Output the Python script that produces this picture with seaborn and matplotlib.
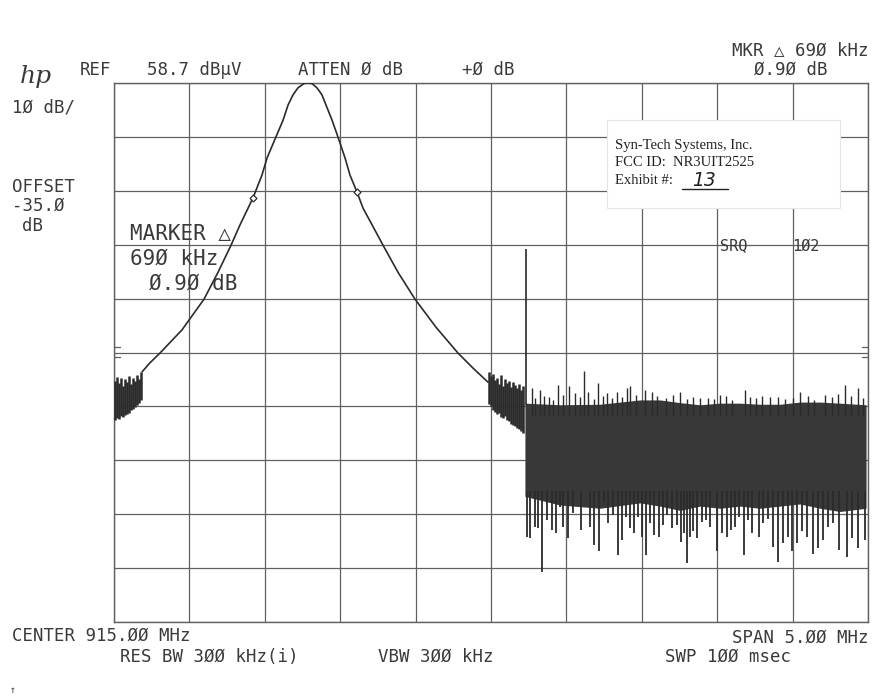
import numpy as np
import pandas as pd
import matplotlib
matplotlib.use("Agg")
import matplotlib.pyplot as plt
import seaborn as sns
from matplotlib.patches import Rectangle
from matplotlib.lines import Line2D

# ---------------- analyzer settings ----------------
center_mhz = 915.0
span_mhz = 5.0
ref_level = 58.7
db_per_div = 10

# ---------------- main response (MHz, dBuV) ----------------
peak_freq = [912.686, 912.739, 912.805, 912.951, 913.097, 913.190, 913.276, 913.336,
             913.422, 913.481, 913.515, 913.574, 913.621, 913.654, 913.687, 913.720,
             913.760, 913.780, 913.813, 913.846, 913.879, 913.906, 913.946, 913.985,
             914.032, 914.065, 914.111, 914.151, 914.211, 914.284, 914.383, 914.496,
             914.635, 914.781, 914.881, 914.980]
peak_level = [5.1, 6.8, 8.6, 12.9, 18.6, 23.6, 28.6, 32.4,
              37.4, 41.6, 44.8, 48.7, 51.8, 54.6, 56.5, 57.8,
              58.6, 58.7, 58.6, 57.8, 56.5, 54.6, 51.8, 48.7,
              44.8, 41.6, 38.5, 35.5, 32.4, 28.6, 23.6, 18.6,
              13.4, 8.6, 5.8, 3.2]

# noise at the left edge
left_noise_freq = [912.507, 912.520, 912.533, 912.546, 912.560, 912.573, 912.586,
                   912.599, 912.613, 912.626, 912.639, 912.652, 912.666, 912.679]
left_noise_top = [3.4, 4.2, 3.0, 4.0, 2.5, 3.8, 3.2, 4.3, 2.9, 4.0, 3.4, 4.5, 3.8, 5.1]
left_noise_bottom = [-3.8, -3.5, -3.6, -3.1, -3.3, -2.9, -2.7, -2.5, -2.0, -1.8,
                     -1.4, -1.0, -0.7, -0.1]

# noise right of the response
mid_noise_freq = [914.987, 915.000, 915.013, 915.027, 915.040, 915.053, 915.066, 915.080,
                  915.093, 915.106, 915.119, 915.133, 915.146, 915.159, 915.172, 915.186,
                  915.199, 915.212]
mid_noise_top = [5.1, 4.3, 4.7, 3.6, 4.0, 2.9, 4.5, 2.5, 3.8, 3.0, 3.4, 2.3, 3.2, 2.7,
                 2.1, 2.9, 1.7, 2.5]
mid_noise_bottom = [-0.9, -1.2, -2.0, -2.3, -2.7, -2.5, -3.3, -3.5, -3.1, -3.8, -4.0,
                    -4.6, -4.8, -4.9, -5.3, -5.5, -5.9, -6.2]

# dense noise band
band_freq = [915.225, 915.458, 915.723, 915.988, 916.121, 916.253, 916.386, 916.518,
             916.651, 916.784, 916.916, 917.049, 917.182, 917.314, 917.487]
band_top = [-0.7, -1.0, -0.9, -0.1, -0.1, -0.6, -1.0, -0.7, -0.7, -0.9, -0.9, -0.5,
            -0.5, -0.7, -1.0]
band_bottom = [-18.0, -19.6, -20.2, -19.2, -19.8, -20.6, -19.8, -20.2, -19.8, -20.2,
               -19.8, -19.4, -20.2, -20.8, -20.2]

up_spike_freq = [915.269, 915.325, 915.386, 915.446, 915.519, 915.557, 915.616, 915.645,
                 915.707, 915.767, 915.833, 915.899, 915.921, 916.021, 916.065, 916.253,
                 916.386, 916.518, 916.684, 916.850, 917.049, 917.215, 917.347, 917.434,
                 915.290, 915.352, 915.410, 915.478, 915.590, 915.680, 915.740, 915.800,
                 915.870, 915.960, 916.100, 916.160, 916.210, 916.300, 916.340, 916.440,
                 916.480, 916.560, 916.600, 916.720, 916.760, 916.800, 916.900, 916.950,
                 917.000, 917.100, 917.140, 917.260, 917.300, 917.390, 917.470]
up_spike_level = [2.1, 1.7, 0.5, 2.7, 2.4, 1.1, 5.3, 1.4, 3.0, 1.1, 1.4, 2.1, 2.4, 1.7,
                  1.4, 1.4, 0.3, 0.8, 1.7, 0.4, 1.4, 0.8, 2.7, 2.1,
                  0.2, 0.6, -0.2, 0.9, 0.4, 0.1, 0.7, 0.3, 0.5, 0.8, 0.6, 0.2, 0.9,
                  0.0, 0.5, 0.3, 0.1, 0.6, -0.1, 0.4, 0.2, 0.7, 0.5, 0.0, 0.3, 0.6,
                  -0.2, 0.4, 1.0, 0.7, 0.3]

down_spike_freq = [915.236, 915.258, 915.291, 915.313, 915.340, 915.373, 915.402, 915.428,
                   915.457, 915.479, 915.512, 915.546, 915.594, 915.656, 915.683, 915.718,
                   915.749, 915.778, 915.811, 915.840, 915.870, 915.893, 915.921, 915.948,
                   915.972, 915.999, 916.027, 916.054, 916.083, 916.114, 916.142, 916.169,
                   916.198, 916.231, 916.260, 916.279, 916.297, 916.319, 916.341, 916.368,
                   916.397, 916.425, 916.452, 916.496, 916.529, 916.562, 916.589, 916.618,
                   916.644, 916.677, 916.706, 916.728, 916.777, 916.805, 916.839, 916.872,
                   916.905, 916.938, 916.971, 916.993, 917.027, 917.060, 917.093, 917.137,
                   917.170, 917.204, 917.237, 917.270, 917.307, 917.358, 917.391, 917.436,
                   917.480]
down_spike_level = [-25.5, -25.8, -23.6, -23.9, -32.1, -22.4, -24.2, -24.8, -19.9, -23.6,
                    -25.8, -21.1, -24.2, -23.6, -27.0, -28.2, -19.3, -23.0, -21.4, -28.9,
                    -26.1, -21.8, -23.9, -24.8, -21.8, -25.5, -28.9, -23.0, -25.2, -25.5,
                    -23.3, -21.4, -23.9, -23.3, -26.4, -24.8, -30.4, -25.5, -24.5, -25.8,
                    -22.7, -22.4, -23.6, -28.2, -24.8, -25.5, -24.2, -23.6, -21.8, -28.9,
                    -22.4, -24.8, -25.5, -23.0, -22.1, -27.3, -30.1, -26.7, -25.5, -28.2,
                    -26.7, -24.5, -25.5, -28.6, -27.6, -26.1, -23.6, -23.0, -27.9, -29.2,
                    -25.8, -27.6, -26.1]

spur_freq = [915.232]
spur_level = [27.9]

marker_freq = [913.422, 914.111]
marker_level = [37.4, 38.5]

# ---------------- drawing ----------------
W, H = 892, 700
sns.set_style("white")
plt.rcParams['font.family'] = ['DejaVu Sans Mono', 'DejaVu Sans']

fig = plt.figure(figsize=(W / 100, H / 100), dpi=100)
fig.patch.set_facecolor('white')
ax = fig.add_axes([114 / W, 1 - 622 / H, 754 / W, 539 / H])

f_lo = center_mhz - span_mhz / 2
f_hi = center_mhz + span_mhz / 2
y_hi = ref_level
y_lo = ref_level - 10 * db_per_div
ax.set_xlim(f_lo, f_hi)
ax.set_ylim(y_lo, y_hi)
ax.set_xticks(np.linspace(f_lo, f_hi, 11))
ax.set_yticks(np.linspace(y_lo, y_hi, 11))
ax.tick_params(length=0, labelbottom=False, labelleft=False)
ax.set_xlabel('')
ax.set_ylabel('')
grid_c = '#606060'
ax.grid(True, color=grid_c, lw=0.9)
for s in ax.spines.values():
    s.set_color(grid_c)
    s.set_linewidth(1.0)

trace_c = '#2b2b2b'
noise_c = '#383838'

df_peak = pd.DataFrame({'freq': peak_freq, 'level': peak_level})
sns.lineplot(data=df_peak, x='freq', y='level', ax=ax, color=trace_c, lw=1.2,
             sort=False, estimator=None, zorder=5)

ax.vlines(left_noise_freq, left_noise_bottom, left_noise_top, colors=trace_c, lw=1.8, zorder=5)
ax.vlines(mid_noise_freq, mid_noise_bottom, mid_noise_top, colors=trace_c, lw=1.8, zorder=5)
ax.fill_between(band_freq, band_bottom, band_top, color=noise_c, lw=0, zorder=4)
ax.vlines(up_spike_freq, -3.0, up_spike_level, colors=trace_c, lw=1.0, zorder=5)
ax.vlines(down_spike_freq, -17.0, down_spike_level, colors=trace_c, lw=1.3, zorder=5)
ax.vlines(spur_freq, -1.0, spur_level, colors=trace_c, lw=1.2, zorder=5)
ax.plot(marker_freq, marker_level, ls='none', marker='D', ms=3.5, mfc='white',
        mec=trace_c, mew=0.9, zorder=6)

# reference markers at the edges
for yv in (9.7, 7.9):
    ax.plot([f_lo, f_lo + 0.04], [yv, yv], color=grid_c, lw=0.9, zorder=6)
    ax.plot([f_hi - 0.04, f_hi], [yv, yv], color=grid_c, lw=0.9, zorder=6)

# ---------------- annotation text ----------------
txt_c = '#3a3a3a'


def put(x, y, s, size=12.5, ha='left', **kw):
    fig.text(x / W, 1 - y / H, s, ha=ha, va='center', fontsize=size, color=txt_c, **kw)


put(20, 76, 'hp', size=18, fontstyle='italic', family=['DejaVu Serif'])
put(80, 70, 'REF')
put(147, 70, '58.7 dBµV')
put(298, 70, 'ATTEN Ø dB')
put(462, 70, '+Ø dB')
put(868, 50, 'MKR △ 69Ø kHz', ha='right')
put(828, 70, 'Ø.9Ø dB', ha='right')
put(12, 108, '1Ø dB/')
put(12, 187, 'OFFSET')
put(12, 206, '-35.Ø')
put(22, 226, 'dB')
put(130, 234, 'MARKER △', size=15)
put(130, 259, '69Ø kHz', size=15)
put(149, 284, 'Ø.9Ø dB', size=15)
put(720, 246, 'SRQ', size=11)
put(792, 246, '1Ø2', size=11)
put(12, 636, 'CENTER 915.ØØ MHz')
put(120, 657, 'RES BW 3ØØ kHz(i)')
put(378, 657, 'VBW 3ØØ kHz')
put(868, 638, 'SPAN 5.ØØ MHz', ha='right')
put(665, 657, 'SWP 1ØØ msec')
put(10, 690, '↑', size=7)

# exhibit label
fig.patches.append(Rectangle((607 / W, 1 - 208 / H), 233 / W, 88 / H,
                             transform=fig.transFigure, facecolor='white',
                             edgecolor='#e6e6e6', lw=0.8, zorder=10))
serif = ['Liberation Serif', 'DejaVu Serif']
fig.text(615 / W, 1 - 145 / H, 'Syn-Tech Systems, Inc.', fontsize=10.5, family=serif,
         color='#222222', va='center', zorder=11)
fig.text(615 / W, 1 - 162 / H, 'FCC ID:  NR3UIT2525', fontsize=10.5, family=serif,
         color='#222222', va='center', zorder=11)
fig.text(615 / W, 1 - 181 / H, 'Exhibit #:', fontsize=10.5, family=serif,
         color='#222222', va='center', zorder=11)
fig.text(692 / W, 1 - 181 / H, '13', fontsize=13.5, family=['DejaVu Sans'],
         fontstyle='italic', color='#222222', va='center', zorder=11)
fig.lines.append(Line2D([682 / W, 728 / W], [1 - 189 / H, 1 - 189 / H],
                        transform=fig.transFigure, color='#222222', lw=1.0, zorder=11))

fig.savefig('out.png', dpi=100, facecolor='white')
